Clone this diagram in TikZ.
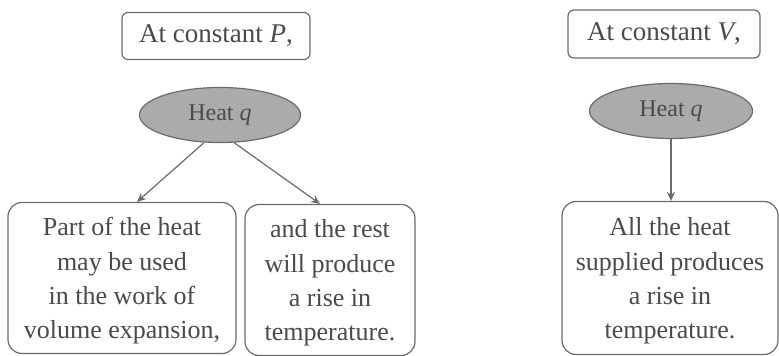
\documentclass[tikz,border=0pt]{standalone}
\usepackage{fontspec}
\setmainfont{Liberation Serif}
\usepackage{xcolor}
\usepackage{tikz}
\usetikzlibrary{calc,arrows.meta,positioning,shapes.geometric}
\definecolor{inkx}{HTML}{4A4A4A}
\definecolor{linex}{HTML}{6A6A6A}
\definecolor{heatx}{HTML}{ABABAB}
\tikzset{
  ar/.style={-{Stealth[length=4.5pt,width=4pt]},semithick,linex},
  titlebox/.style={draw=linex,semithick,rounded corners=3pt,text=inkx,inner sep=0pt,
    font=\fontsize{13.5}{16}\selectfont},
  heat/.style={ellipse,draw=linex,semithick,fill=heatx,text=inkx,inner sep=0pt,
    font=\fontsize{12}{14}\selectfont},
  textbox/.style={draw=linex,semithick,rounded corners=7pt,text=inkx,align=center,inner sep=0pt,
    font=\fontsize{13}{17.2}\selectfont}
}
\begin{document}
\begin{tikzpicture}[x=0.5pt,y=-0.5pt]
\useasboundingbox (0,0) rectangle (779,356);
% constant pressure
\node[titlebox,minimum width=94pt,minimum height=23.5pt] (atP) at (216,36) {At constant \textit{P},};
\node[heat,minimum width=80.5pt,minimum height=27.5pt] (heatP) at (220,115) {Heat \textit{q}};
\node[textbox,minimum width=114pt,minimum height=75.5pt] (work) at (122,278)
  {\strut Part of the heat\\may be used\\in the work of\\volume expansion,};
\node[textbox,minimum width=85pt,minimum height=75.5pt] (rest) at (330,280)
  {\strut and the rest\\will produce\\a rise in\\temperature.};
\draw[ar] (heatP.240) -- ([xshift=7.5pt]work.north);
\draw[ar] (heatP.297) -- ([xshift=-5pt]rest.north);
% constant volume
\node[titlebox,minimum width=96pt,minimum height=24pt] (atV) at (664,34) {At constant \textit{V},};
\node[heat,minimum width=81.5pt,minimum height=27.5pt] (heatV) at (671,111) {Heat \textit{q}};
\node[textbox,minimum width=108pt,minimum height=76.5pt] (all) at (670,278)
  {\strut All the heat\\supplied produces\\a rise in\\temperature.};
\draw[ar] (heatV.south) -- (heatV.south |- all.north);
\end{tikzpicture}
\end{document}
